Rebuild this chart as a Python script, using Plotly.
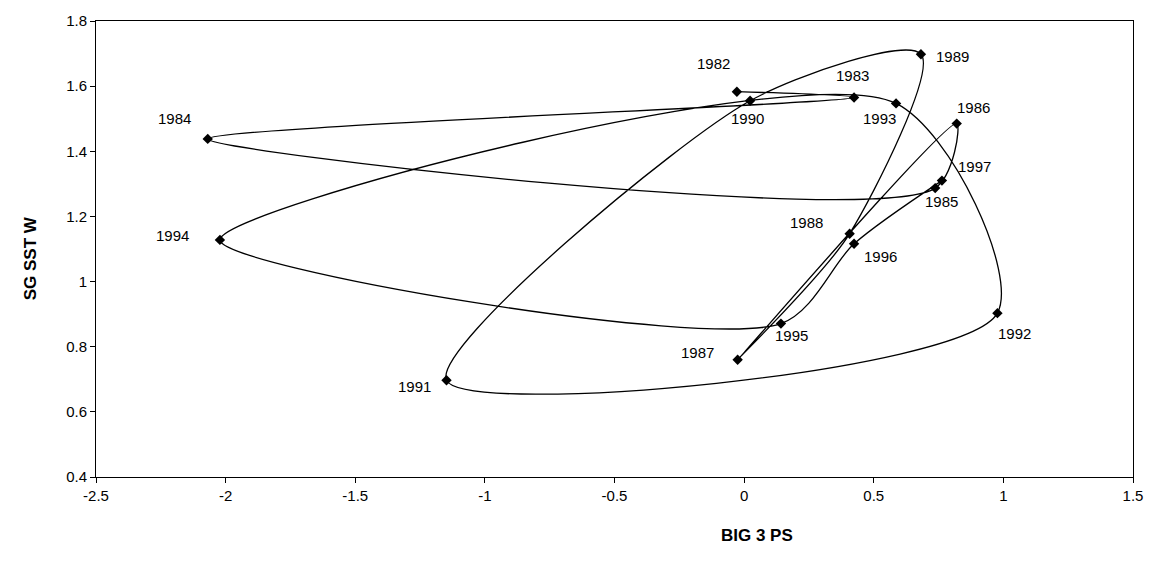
import plotly.graph_objects as go

years = ["1982", "1983", "1984", "1985", "1986", "1987", "1988", "1989",
         "1990", "1991", "1992", "1993", "1994", "1995", "1996", "1997"]
big3_ps = [-0.028, 0.424, -2.069, 0.737, 0.820, -0.025, 0.407, 0.682,
           0.023, -1.148, 0.977, 0.586, -2.022, 0.142, 0.424, 0.763]
sg_sst_w = [1.583, 1.565, 1.438, 1.287, 1.485, 0.760, 1.147, 1.698,
            1.555, 0.697, 0.903, 1.547, 1.128, 0.871, 1.116, 1.310]

# label offsets in pixels (dx, dy up)
label_offsets = {
    "1982": (-23, 28), "1983": (-2, 22), "1984": (-33, 20), "1985": (6, -13),
    "1986": (17, 16), "1987": (-40, 7), "1988": (-43, 11), "1989": (32, -2),
    "1990": (-3, -18), "1991": (-32, -6), "1992": (17, -20), "1993": (-17, -15),
    "1994": (-47, 4), "1995": (11, -12), "1996": (26, -13), "1997": (33, 14),
}

FONT = "Liberation Sans, Arial, sans-serif"

fig = go.Figure()
fig.add_trace(go.Scatter(
    x=big3_ps, y=sg_sst_w, mode="lines+markers",
    line=dict(color="black", width=1.3, shape="spline", smoothing=0.8),
    marker=dict(symbol="diamond", size=8, color="black"),
    showlegend=False, hoverinfo="x+y",
))

for yr, xv, yv in zip(years, big3_ps, sg_sst_w):
    dx, dy = label_offsets[yr]
    fig.add_annotation(x=xv, y=yv, text=yr, showarrow=False,
                       xshift=dx, yshift=dy,
                       font=dict(family=FONT, size=15, color="black"))

# axis titles (placed as in the original)
fig.add_annotation(xref="paper", yref="paper", x=0.637, y=-0.129,
                   yanchor="middle", text="<b>BIG 3 PS</b>", showarrow=False,
                   font=dict(family=FONT, size=17, color="black"))
fig.add_annotation(xref="paper", yref="paper", x=-0.0635, y=0.48,
                   xanchor="center", yanchor="middle", textangle=-90,
                   text="<b>SG SST W</b>", showarrow=False,
                   font=dict(family=FONT, size=17, color="black"))

fig.update_layout(
    width=1155, height=563,
    margin=dict(l=96, r=17, t=20, b=86),
    plot_bgcolor="white", paper_bgcolor="white",
    font=dict(family=FONT, size=15, color="black"),
)
fig.update_xaxes(
    range=[-2.5, 1.5], tickvals=[-2.5, -2, -1.5, -1, -0.5, 0, 0.5, 1, 1.5],
    ticktext=["-2.5", "-2", "-1.5", "-1", "-0.5", "0", "0.5", "1", "1.5"],
    showgrid=False, zeroline=False, showline=True, linecolor="black", linewidth=1,
    mirror=True, ticks="outside", ticklen=5, tickcolor="black",
)
fig.update_yaxes(
    range=[0.4, 1.8], tickvals=[0.4, 0.6, 0.8, 1.0, 1.2, 1.4, 1.6, 1.8],
    ticktext=["0.4", "0.6", "0.8", "1", "1.2", "1.4", "1.6", "1.8"],
    showgrid=False, zeroline=False, showline=True, linecolor="black", linewidth=1,
    mirror=True, ticks="outside", ticklen=5, tickcolor="black",
)

fig.write_html(
    "out.html",
    config={"displayModeBar": False},
    post_script="document.body.style.margin='0px';document.body.style.padding='0px';",
)
